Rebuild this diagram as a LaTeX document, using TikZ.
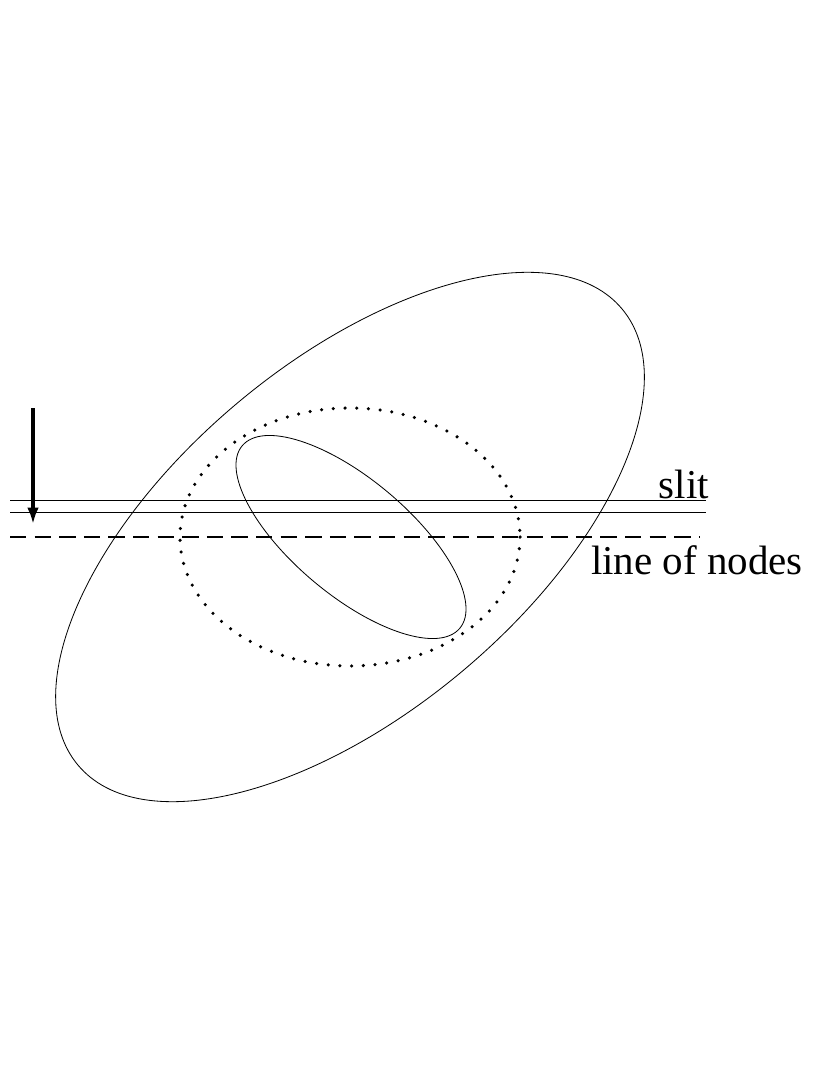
\documentclass[tikz,border=0pt]{standalone}
\usepackage{fontspec}
\setmainfont{Liberation Serif}
\usetikzlibrary{arrows.meta}
\begin{document}
\begin{tikzpicture}[x=0.03cm,y=-0.03cm,line width=0.7pt,
	lbl/.style={font=\fontsize{35}{40}\selectfont,inner sep=0pt}]
		\useasboundingbox (0,0) rectangle (830,1075);
		\draw (350,537) ellipse [x radius=355, y radius=175, rotate=40];
		\draw (351,537) ellipse [x radius=142, y radius=58, rotate=-40];
		\draw[line width=3pt, dash pattern=on 0pt off 10pt, line cap=round] (350,537) ellipse [x radius=170, y radius=129];
		
		\coordinate (s1) at (10,500); \coordinate (s1e) at (706,500);
		\coordinate (s2) at (10,512); \coordinate (s2e) at (706,512);
		\coordinate (n1) at (10,537); \coordinate (n1e) at (700,537);
		\draw (s1) -- (s1e);
		\draw (s2) -- (s2e);
		\draw[line width=1.5pt, dash pattern=on 14pt off 7pt] (n1) -- (n1e);
		\node[lbl] (slit) at (684,484) {slit};
		\node[lbl] (lon) at (697,560) {line of nodes};
		
		\coordinate (a0) at (33,408); \coordinate (a1) at (33,524);
		\draw[line width=3.5pt, -{Latex[length=14pt,width=10pt]}] (a0) -- (a1);
\end{tikzpicture}
\end{document}
